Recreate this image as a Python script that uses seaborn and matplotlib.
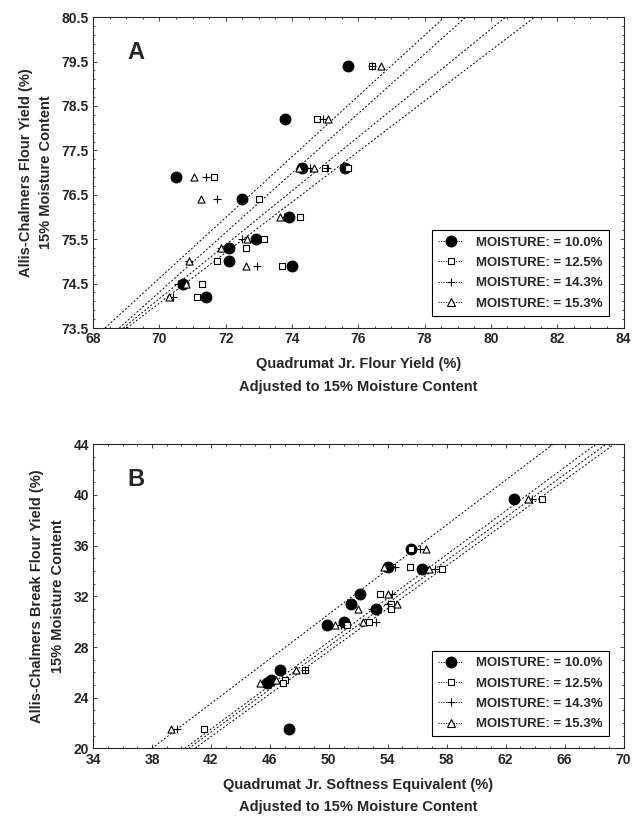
import numpy as np
import pandas as pd
import matplotlib
matplotlib.use("Agg")
import matplotlib.pyplot as plt
from matplotlib.lines import Line2D
import seaborn as sns

sns.set_theme(style="ticks")
plt.rcParams["font.family"] = ["Liberation Sans", "DejaVu Sans"]
plt.rcParams["font.weight"] = "bold"

moisture = ["10.0%", "12.5%", "14.3%", "15.3%"]

# Painel A - rendimento de farinha
a_y = [79.4, 78.2, 77.1, 77.1, 76.9, 76.4, 76.0, 75.5, 75.3, 75.0, 74.9, 74.5, 74.2]
a_x_100 = [75.7, 73.8, 74.3, 75.6, 70.5, 72.5, 73.9, 72.9, 72.1, 72.1, 74.0, 70.7, 71.4]
a_x_125 = [76.4, 74.75, 75.0, 75.7, 71.65, 73.0, 74.25, 73.15, 72.6, 71.75, 73.7, 71.3, 71.15]
a_x_143 = [76.4, 74.95, 74.55, 75.05, 71.4, 71.75, 73.75, 72.5, 71.85, 70.9, 72.95, 70.55, 70.4]
a_x_153 = [76.7, 75.1, 74.65, 74.2, 71.05, 71.25, 73.65, 72.65, 71.85, 70.9, 72.6, 70.8, 70.3]
# retas de regressão (inclinação, intercepto)
a_slope = [0.684, 0.670, 0.607, 0.569]
a_inter = [26.74, 27.41, 31.67, 34.23]

# Painel B - farinha de quebra / softness equivalent
b_y = [39.7, 35.7, 34.3, 34.15, 32.2, 31.4, 31.0, 30.0, 29.7, 26.2, 25.4, 25.2, 21.5]
b_x_100 = [62.6, 55.6, 54.0, 56.3, 52.1, 51.5, 53.2, 51.0, 49.9, 46.7, 46.1, 45.8, 47.3]
b_x_125 = [64.5, 55.6, 55.5, 57.7, 53.45, 54.2, 54.25, 52.7, 51.25, 48.4, 47.0, 46.9, 41.5]
b_x_143 = [63.8, 56.2, 54.5, 57.2, 54.3, 54.0, 52.9, 53.2, 50.8, 48.4, 46.3, 45.6, 39.7]
b_x_153 = [63.5, 56.6, 53.75, 56.8, 54.0, 54.6, 52.0, 52.3, 50.45, 47.8, 46.4, 45.3, 39.3]
b_slope = [0.881, 0.860, 0.847, 0.843]
b_inter = [-13.46, -14.59, -14.29, -14.48]

estilos = {
    "10.0%": dict(marker="o", s=60, facecolor="black"),
    "12.5%": dict(marker="s", s=24, facecolor="white"),
    "14.3%": dict(marker="+", s=36, facecolor="black"),
    "15.3%": dict(marker="^", s=26, facecolor="white"),
}
linha = dict(color="black", linewidth=0.7, linestyle=(0, (2, 2)))


def montar(y, xs):
    partes = []
    for m, x in zip(moisture, xs):
        partes.append(pd.DataFrame({"x": x, "y": y, "moisture": m}))
    return pd.concat(partes, ignore_index=True)


df_a = montar(a_y, [a_x_100, a_x_125, a_x_143, a_x_153])
df_b = montar(b_y, [b_x_100, b_x_125, b_x_143, b_x_153])

fig = plt.figure(figsize=(6.33, 8.18), dpi=100)
ax_a = fig.add_axes([0.147, 0.599, 0.838, 0.380])
ax_b = fig.add_axes([0.147, 0.085, 0.838, 0.372])


def painel(ax, df, slopes, inters, xlim, ylim, xticks, yticks, letra,
           xlabel, ylabel):
    for m, b1, b0 in zip(moisture, slopes, inters):
        sub = df[df["moisture"] == m]
        st = estilos[m]
        if st["marker"] == "+":
            sns.scatterplot(data=sub, x="x", y="y", ax=ax, marker="+",
                            s=st["s"], color="black", linewidth=0.8, zorder=3)
        else:
            sns.scatterplot(data=sub, x="x", y="y", ax=ax, marker=st["marker"],
                            s=st["s"], facecolor=st["facecolor"],
                            edgecolor="black", linewidth=0.8, zorder=3)
        ax.axline((0, b0), slope=b1, **linha)
    ax.set_xlim(*xlim)
    ax.set_ylim(*ylim)
    ax.set_xticks(xticks)
    ax.set_yticks(yticks)
    ax.set_xticklabels([f"{t:g}" for t in xticks], fontsize=10, fontweight="bold")
    ax.set_yticklabels([f"{t:g}" for t in yticks], fontsize=10, fontweight="bold")
    ax.minorticks_on()
    ax.tick_params(which="both", direction="in", top=True, right=True,
                   width=0.6, pad=3)
    ax.tick_params(which="major", length=3)
    ax.tick_params(which="minor", length=1.5)
    for sp in ax.spines.values():
        sp.set_linewidth(0.8)
    ax.set_xlabel(xlabel, fontsize=10.5, fontweight="bold", linespacing=1.75,
                  labelpad=8)
    ax.set_ylabel(ylabel, fontsize=10.5, fontweight="bold", linespacing=1.6,
                  labelpad=6)
    ax.text(0.065, 0.885, letra, transform=ax.transAxes, fontsize=17,
            fontweight="bold", ha="left", va="center")

    handles = []
    for m in moisture:
        st = estilos[m]
        handles.append(Line2D([0], [0], color="black", linewidth=0.6,
                              linestyle=(0, (1.5, 1.5)), marker=st["marker"],
                              markersize=np.sqrt(st["s"]),
                              markerfacecolor=st["facecolor"],
                              markeredgecolor="black", markeredgewidth=0.8))
    leg = ax.legend(handles, [f"MOISTURE: = {m}" for m in moisture],
                    loc="lower right", bbox_to_anchor=(0.985, 0.018),
                    frameon=True, fancybox=False, edgecolor="black",
                    framealpha=1, handlelength=1.9, handletextpad=1.0,
                    borderpad=0.45, labelspacing=0.62,
                    prop=dict(size=9.5, weight="bold"))
    leg.get_frame().set_linewidth(0.8)


painel(ax_a, df_a, a_slope, a_inter, (68, 84), (73.5, 80.5),
       np.arange(68, 85, 2), np.arange(73.5, 80.6, 1.0), "A",
       "Quadrumat Jr. Flour Yield (%)\nAdjusted to 15% Moisture Content",
       "Allis-Chalmers Flour Yield (%)\n15% Moisture Content")
painel(ax_b, df_b, b_slope, b_inter, (34, 70), (20, 44),
       np.arange(34, 71, 4), np.arange(20, 45, 4), "B",
       "Quadrumat Jr. Softness Equivalent (%)\nAdjusted to 15% Moisture Content",
       "Allis-Chalmers Break Flour Yield (%)\n15% Moisture Content")

plt.savefig("out.png", dpi=100)
plt.close()
